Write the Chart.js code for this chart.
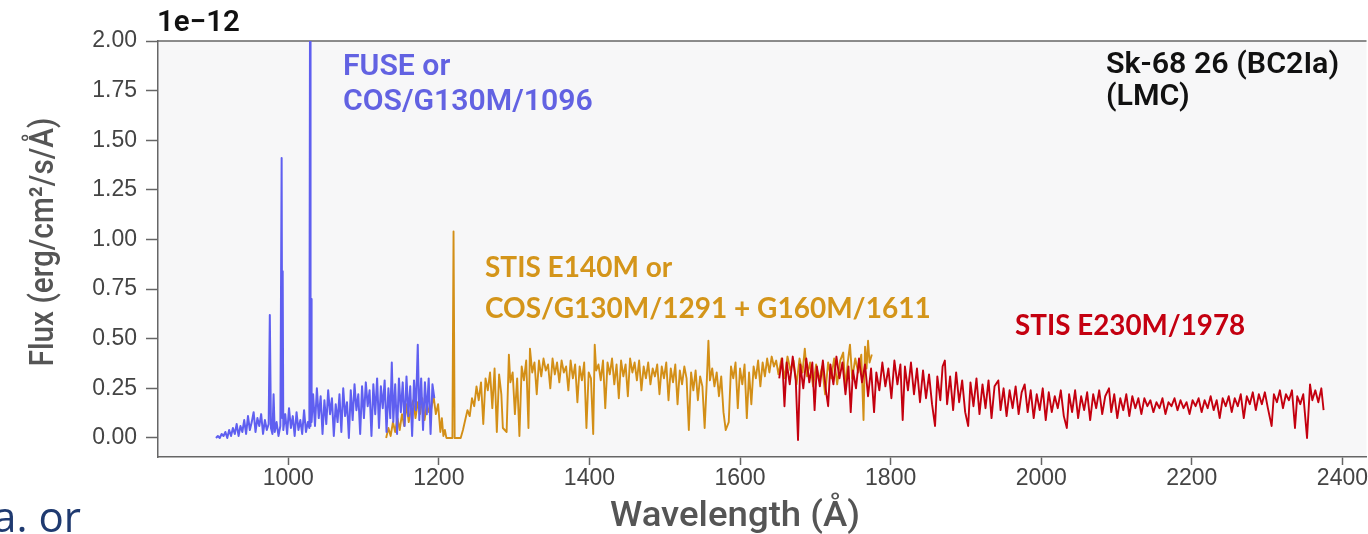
<!DOCTYPE html>
<html>
<head>
<meta charset="utf-8">
<script src="https://cdn.jsdelivr.net/npm/chart.js@4.4.1/dist/chart.umd.min.js"></script>
<style>
  html, body { margin: 0; padding: 0; background: #fff; overflow: hidden; }
</style>
</head>
<body>
<canvas id="spectrum" width="1368" height="534"></canvas>
<script>
// axis ticks
const xTickValues = [1000, 1200, 1400, 1600, 1800, 2000, 2200, 2400];
const yTickValues = [0, 0.25, 0.5, 0.75, 1.0, 1.25, 1.5, 1.75, 2.0];

// FUSE or COS/G130M/1096 (blue), flux in 1e-12 erg/cm2/s/A
const fuseWave = [904, 906.5, 909, 911.5, 914, 916.5, 919, 921.5, 924, 926.5, 929, 931.5, 934, 936.5, 939, 941.5, 944, 946.5, 949, 951.5,
  954, 956.5, 959, 961.5, 964, 966.5, 969, 971.5, 974, 975.5, 977, 979, 980.5, 982, 984.5, 987, 989.5, 991.2, 992, 992.6,
  993.4, 996, 998.5, 1001, 1003.5, 1006, 1008.5, 1011, 1013.5, 1016, 1018.5, 1021, 1023.5, 1026, 1028, 1029, 1029.6, 1030.2, 1031, 1033,
  1035.5, 1038, 1040.5, 1043, 1045.5, 1048, 1050.5, 1053, 1055.5, 1058, 1060.5, 1063, 1065.5, 1068, 1070.5, 1073, 1075.5, 1078, 1080.5, 1083,
  1085.5, 1088, 1090.5, 1093, 1095.5, 1098, 1100.5, 1103, 1105.5, 1108, 1110.5, 1113, 1115.5, 1118, 1120.5, 1123, 1125.5, 1128, 1130.5, 1133,
  1135.5, 1137.5, 1139.5, 1142, 1144.5, 1147, 1149.5, 1152, 1154.5, 1157, 1159.5, 1162, 1164.5, 1167, 1169.5, 1172, 1174, 1176.5, 1179, 1181.5,
  1184, 1186.5, 1189, 1191.5, 1194];
const fuseFlux = [0.00, 0.01, 0.00, 0.02, 0.01, 0.03, 0.00, 0.04, 0.01, 0.05, 0.02, 0.07, 0.01, 0.06, 0.03, 0.09, 0.02, 0.11, 0.04, 0.08,
  0.13, 0.03, 0.10, 0.06, 0.12, 0.02, 0.09, 0.04, 0.07, 0.62, 0.05, 0.02, 0.22, 0.03, 0.08, 0.01, 0.06, 1.41, 0.10, 0.84,
  0.04, 0.12, 0.02, 0.15, 0.05, 0.11, 0.01, 0.13, 0.04, 0.09, 0.02, 0.14, 0.03, 0.08, 0.05, 2.40, 0.06, 0.70, 0.08, 0.22,
  0.06, 0.25, 0.10, 0.21, 0.02, 0.19, 0.07, 0.24, 0.12, 0.20, 0.01, 0.17, 0.08, 0.22, 0.03, 0.25, 0.11, 0.18, 0.00, 0.24,
  0.09, 0.27, 0.14, 0.22, 0.02, 0.26, 0.10, 0.28, 0.16, 0.24, 0.01, 0.27, 0.12, 0.30, 0.05, 0.26, 0.15, 0.29, 0.03, 0.25,
  0.10, 0.38, 0.08, 0.27, 0.02, 0.30, 0.13, 0.28, 0.06, 0.31, 0.11, 0.26, 0.01, 0.29, 0.14, 0.47, 0.09, 0.30, 0.04, 0.28,
  0.12, 0.30, 0.02, 0.27, 0.20];

// STIS E140M or COS/G130M/1291 + G160M/1611 (gold)
const e140Wave = [1130, 1133, 1136, 1139, 1142, 1145, 1148, 1151, 1154, 1157, 1160, 1163, 1166, 1169, 1172, 1175, 1178, 1181, 1184, 1187,
  1190, 1193, 1196, 1199, 1202, 1204, 1206, 1208, 1210, 1214, 1218, 1219.5, 1221, 1225, 1229, 1232, 1235, 1238, 1241, 1244,
  1247, 1250, 1253, 1256, 1259, 1262, 1265, 1268, 1271, 1274, 1277, 1280, 1283, 1285, 1290, 1293, 1295, 1298, 1301, 1304,
  1307, 1310, 1313, 1316, 1319, 1321, 1324, 1327, 1330, 1333, 1336, 1339, 1342, 1345, 1348, 1351, 1354, 1357, 1360, 1363,
  1366, 1369, 1372, 1375, 1378, 1381, 1384, 1387, 1390, 1393, 1396, 1399, 1402, 1405, 1407, 1409, 1412, 1415, 1418, 1421,
  1424, 1427, 1430, 1433, 1436, 1439, 1442, 1445, 1448, 1451, 1454, 1457, 1460, 1463, 1466, 1469, 1472, 1475, 1478, 1481,
  1484, 1487, 1490, 1493, 1496, 1499, 1502, 1505, 1508, 1511, 1514, 1517, 1520, 1523, 1526, 1529, 1532, 1535, 1538, 1541,
  1544, 1547, 1550, 1553, 1556, 1558, 1560, 1563, 1566, 1569, 1572, 1575, 1578, 1581, 1585, 1588, 1591, 1594, 1597, 1600,
  1603, 1606, 1609, 1612, 1615, 1618, 1621, 1624, 1627, 1630, 1633, 1636, 1639, 1642, 1645, 1648, 1651, 1655, 1659, 1663,
  1667, 1671, 1675, 1679, 1683, 1686, 1689, 1693, 1697, 1701, 1705, 1709, 1713, 1717, 1721, 1725, 1729, 1733, 1737, 1740,
  1743, 1746, 1749, 1753, 1757, 1761, 1764, 1766, 1768, 1770, 1772, 1775];
const e140Flux = [0.00, 0.05, 0.01, 0.08, 0.03, 0.10, 0.04, 0.12, 0.06, 0.17, 0.08, 0.15, 0.19, 0.10, 0.18, 0.12, 0.20, 0.09, 0.17, 0.13,
  0.15, 0.21, 0.12, 0.17, 0.03, 0.10, 0.01, 0.04, 0.00, 0.00, 0.00, 1.04, 0.00, 0.00, 0.00, 0.04, 0.09, 0.14, 0.11, 0.20,
  0.16, 0.26, 0.19, 0.28, 0.07, 0.30, 0.24, 0.33, 0.15, 0.35, 0.03, 0.32, 0.22, 0.05, 0.03, 0.42, 0.28, 0.33, 0.12, 0.30,
  0.01, 0.36, 0.29, 0.39, 0.05, 0.45, 0.33, 0.38, 0.22, 0.39, 0.31, 0.40, 0.34, 0.37, 0.25, 0.40, 0.32, 0.38, 0.28, 0.39,
  0.33, 0.36, 0.24, 0.39, 0.30, 0.37, 0.18, 0.36, 0.29, 0.38, 0.05, 0.33, 0.30, 0.02, 0.47, 0.34, 0.37, 0.29, 0.39, 0.15,
  0.38, 0.32, 0.40, 0.27, 0.37, 0.20, 0.39, 0.31, 0.37, 0.21, 0.40, 0.33, 0.38, 0.29, 0.39, 0.24, 0.36, 0.30, 0.38, 0.27,
  0.35, 0.31, 0.37, 0.22, 0.36, 0.30, 0.38, 0.19, 0.35, 0.28, 0.37, 0.17, 0.34, 0.27, 0.36, 0.30, 0.04, 0.33, 0.24, 0.34,
  0.19, 0.31, 0.26, 0.05, 0.30, 0.49, 0.29, 0.35, 0.26, 0.33, 0.21, 0.31, 0.13, 0.04, 0.08, 0.36, 0.30, 0.38, 0.15, 0.35,
  0.27, 0.37, 0.10, 0.33, 0.17, 0.36, 0.30, 0.39, 0.26, 0.38, 0.31, 0.40, 0.33, 0.41, 0.36, 0.39, 0.32, 0.40, 0.30, 0.41,
  0.34, 0.39, 0.27, 0.40, 0.33, 0.45, 0.31, 0.38, 0.26, 0.37, 0.29, 0.36, 0.22, 0.38, 0.30, 0.40, 0.27, 0.39, 0.43, 0.25,
  0.38, 0.47, 0.30, 0.40, 0.33, 0.42, 0.09, 0.46, 0.35, 0.49, 0.38, 0.42];

// STIS E230M/1978 (red)
const e230Wave = [1652, 1656, 1659, 1662, 1666, 1670, 1674, 1677, 1680, 1684, 1688, 1692, 1696, 1699, 1702, 1706, 1710, 1714, 1717, 1720,
  1724, 1728, 1732, 1736, 1740, 1744, 1747, 1750, 1754, 1758, 1762, 1766, 1770, 1774, 1778, 1781, 1785, 1789, 1793, 1797,
  1801, 1805, 1809, 1813, 1816, 1819, 1823, 1827, 1831, 1835, 1839, 1843, 1847, 1851, 1855, 1859, 1862, 1866, 1869, 1872,
  1875, 1879, 1883, 1887, 1891, 1895, 1899, 1903, 1906, 1910, 1914, 1918, 1922, 1926, 1930, 1934, 1938, 1943, 1946, 1950,
  1954, 1958, 1962, 1966, 1970, 1974, 1978, 1982, 1986, 1990, 1994, 1998, 2002, 2006, 2010, 2014, 2018, 2022, 2026, 2030,
  2034, 2037, 2041, 2045, 2049, 2053, 2057, 2061, 2065, 2069, 2073, 2077, 2081, 2085, 2090, 2093, 2097, 2101, 2105, 2109,
  2113, 2117, 2121, 2125, 2129, 2133, 2137, 2141, 2145, 2149, 2153, 2157, 2161, 2165, 2169, 2173, 2177, 2181, 2185, 2189,
  2193, 2197, 2201, 2205, 2209, 2213, 2217, 2221, 2225, 2229, 2233, 2237, 2241, 2245, 2249, 2253, 2257, 2261, 2265, 2269,
  2273, 2277, 2281, 2285, 2289, 2293, 2297, 2301, 2306, 2309, 2313, 2317, 2321, 2325, 2329, 2333, 2337, 2340, 2344, 2348,
  2353, 2357, 2360, 2364, 2368, 2372, 2375];
const e230Flux = [0.30, 0.40, 0.16, 0.38, 0.27, 0.41, 0.29, -0.01, 0.37, 0.25, 0.40, 0.28, 0.38, 0.14, 0.36, 0.26, 0.39, 0.24, 0.16, 0.37,
  0.27, 0.41, 0.30, 0.38, 0.22, 0.36, 0.13, 0.34, 0.25, 0.40, 0.28, 0.37, 0.21, 0.35, 0.13, 0.33, 0.24, 0.38, 0.26, 0.35,
  0.20, 0.39, 0.27, 0.37, 0.09, 0.36, 0.24, 0.38, 0.22, 0.35, 0.18, 0.34, 0.20, 0.32, 0.17, 0.06, 0.31, 0.19, 0.36, 0.39,
  0.17, 0.31, 0.14, 0.33, 0.18, 0.29, 0.13, 0.06, 0.28, 0.16, 0.30, 0.12, 0.27, 0.15, 0.29, 0.10, 0.26, 0.29, 0.14, 0.25,
  0.11, 0.24, 0.15, 0.26, 0.12, 0.23, 0.27, 0.13, 0.24, 0.10, 0.22, 0.14, 0.25, 0.09, 0.23, 0.13, 0.21, 0.15, 0.24, 0.11,
  0.05, 0.22, 0.13, 0.24, 0.10, 0.21, 0.14, 0.23, 0.09, 0.22, 0.15, 0.24, 0.12, 0.21, 0.25, 0.13, 0.22, 0.10, 0.20, 0.14,
  0.22, 0.11, 0.21, 0.15, 0.20, 0.12, 0.20, 0.16, 0.19, 0.13, 0.18, 0.15, 0.20, 0.12, 0.18, 0.16, 0.20, 0.14, 0.19, 0.15,
  0.18, 0.12, 0.19, 0.16, 0.20, 0.13, 0.19, 0.15, 0.21, 0.14, 0.19, 0.10, 0.20, 0.16, 0.21, 0.13, 0.20, 0.16, 0.22, 0.10,
  0.21, 0.17, 0.23, 0.14, 0.22, 0.17, 0.23, 0.15, 0.06, 0.22, 0.18, 0.24, 0.15, 0.22, 0.19, 0.24, 0.05, 0.21, 0.17, 0.22,
  0.00, 0.27, 0.19, 0.24, 0.18, 0.25, 0.14];

const toPoints = (wave, flux) => wave.map((w, i) => ({ x: w, y: flux[i] }));

// text helpers
function fitSize(ctx, text, weight, family, width) {
  ctx.font = weight + ' 100px ' + family;
  return 100 * width / ctx.measureText(text).width;
}

function drawLines(ctx, lines, x, y, gap, weight, family, width, color, align) {
  const longest = lines.reduce((a, b) => (b.length > a.length ? b : a));
  const size = fitSize(ctx, longest, weight, family, width);
  ctx.font = weight + ' ' + size.toFixed(1) + 'px ' + family;
  ctx.fillStyle = color;
  ctx.textAlign = align || 'left';
  ctx.textBaseline = 'alphabetic';
  lines.forEach((t, i) => ctx.fillText(t, x, y + i * gap));
}

function drawSqueezed(ctx, text, cx, cy, size, width, angle, family, color) {
  ctx.save();
  ctx.translate(cx, cy);
  ctx.rotate(angle);
  ctx.font = '500 ' + size + 'px ' + family;
  const sx = width / ctx.measureText(text).width;
  ctx.scale(sx, 1);
  ctx.fillStyle = color;
  ctx.textAlign = 'center';
  ctx.textBaseline = 'middle';
  ctx.fillText(text, 0, 0);
  ctx.restore();
}

const framePlugin = {
  id: 'frame',
  beforeDraw(chart) {
    const { ctx, chartArea: a } = chart;
    ctx.save();
    ctx.fillStyle = '#f7f7f8';
    ctx.fillRect(a.left, a.top, a.right - a.left, a.bottom - a.top);
    ctx.strokeStyle = '#666';
    ctx.lineWidth = 1.5;
    ctx.beginPath();
    ctx.moveTo(a.left, a.top);
    ctx.lineTo(a.right, a.top);
    ctx.stroke();
    ctx.restore();
  },
  afterDraw(chart) {
    const ctx = chart.ctx;
    ctx.save();
    drawLines(ctx, ['1e\u221212'], 157, 31, 0, '600', 'Roboto', 83, '#111');
    drawLines(ctx, ['FUSE or', 'COS/G130M/1096'], 343, 75, 35, '600', 'Roboto', 250, '#6262e2');
    drawLines(ctx, ['STIS E140M or', 'COS/G130M/1291 + G160M/1611'], 485, 277, 40.5, 'bold', 'Lato', 445, '#d4951a');
    drawLines(ctx, ['STIS E230M/1978'], 1015, 335, 0, 'bold', 'Lato', 230, '#c40010');
    drawLines(ctx, ['Sk-68 26 (BC2Ia)', '(LMC)'], 1106, 73, 32, '600', 'Roboto', 233, '#111');
    drawLines(ctx, ['a. or'], 81, 532, 0, '400', '"Open Sans"', 88, '#1f3a70', 'right');
    drawSqueezed(ctx, 'Flux (erg/cm\u00b2/s/\u00c5)', 44, 242, 34, 249, -Math.PI / 2, 'Roboto', '#555');
    drawSqueezed(ctx, 'Wavelength (\u00c5)', 735, 517, 35, 250, 0, 'Roboto', '#555');
    ctx.restore();
  }
};

const tickFont = { family: '"Liberation Sans", Arial, sans-serif', size: 23 };

new Chart(document.getElementById('spectrum'), {
  type: 'scatter',
  data: {
    datasets: [
      {
        label: 'FUSE or COS/G130M/1096',
        data: toPoints(fuseWave, fuseFlux),
        borderColor: '#5f5ff0',
        borderWidth: 2,
        order: 2
      },
      {
        label: 'STIS E140M or COS/G130M/1291 + G160M/1611',
        data: toPoints(e140Wave, e140Flux),
        borderColor: '#d38f17',
        order: 3
      },
      {
        label: 'STIS E230M/1978',
        data: toPoints(e230Wave, e230Flux),
        borderColor: '#c4000f',
        order: 1
      }
    ]
  },
  options: {
    responsive: false,
    devicePixelRatio: 1,
    animation: false,
    datasets: {
      scatter: {
        showLine: true,
        pointRadius: 0,
        borderWidth: 1.9,
        borderJoinStyle: 'round',
        tension: 0
      }
    },
    layout: { padding: { top: 41, left: 0, right: 0, bottom: 0 } },
    plugins: {
      legend: { display: false },
      tooltip: { enabled: false }
    },
    scales: {
      x: {
        type: 'linear',
        min: 827,
        max: 2432,
        afterBuildTicks: (scale) => { scale.ticks = xTickValues.map(v => ({ value: v })); },
        afterFit: (scale) => { scale.height = 77; },
        border: { color: '#666', width: 1.5 },
        grid: { drawOnChartArea: false, tickLength: 8, tickColor: '#666', tickWidth: 1.5 },
        ticks: {
          font: tickFont,
          color: '#444',
          padding: 0,
          maxRotation: 0,
          callback: (v) => String(v)
        }
      },
      y: {
        type: 'linear',
        min: -0.096,
        max: 2.0,
        afterBuildTicks: (scale) => { scale.ticks = yTickValues.map(v => ({ value: v })); },
        afterFit: (scale) => { scale.width = 158; },
        border: { color: '#666', width: 1.5 },
        grid: { drawOnChartArea: false, tickLength: 12, tickColor: '#666', tickWidth: 1.5 },
        ticks: {
          font: tickFont,
          color: '#444',
          padding: 9,
          callback: (v) => v.toFixed(2)
        }
      }
    }
  },
  plugins: [framePlugin]
});
</script>
</body>
</html>
